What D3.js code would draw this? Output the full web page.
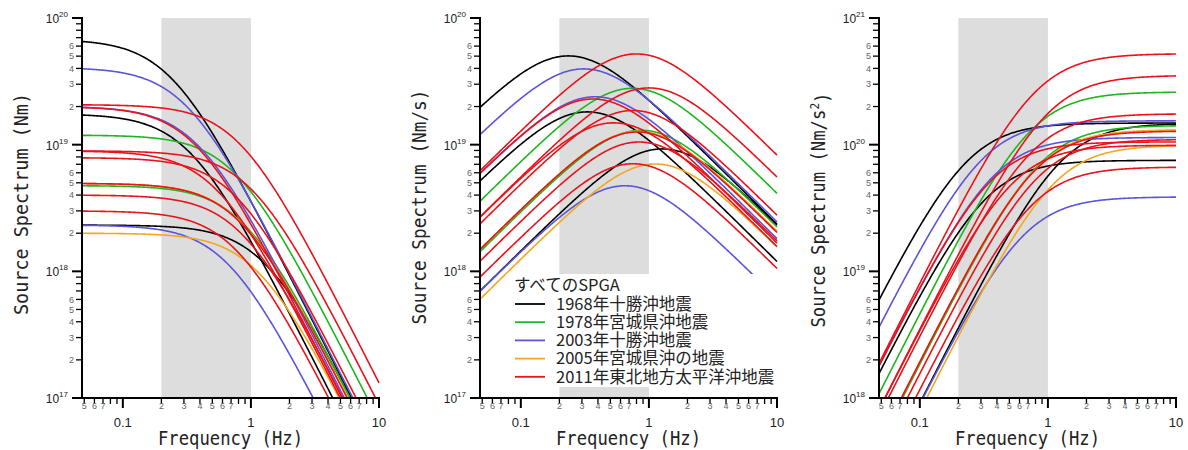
<!DOCTYPE html>
<html>
<head>
<meta charset="utf-8">
<script src="https://cdn.jsdelivr.net/npm/d3@7"></script>
<style>
  body { margin: 0; background: #fff; }
  text { font-family: "Liberation Sans", "DejaVu Sans", sans-serif; }
</style>
</head>
<body>
<svg id="chart" width="1188" height="450"></svg>
<script>
// events shown in the legend
var eventLabels = ["1968年十勝沖地震", "1978年宮城県沖地震", "2003年十勝沖地震", "2005年宮城県沖の地震", "2011年東北地方太平洋沖地震"];
var eventColors = ["#000000", "#1fb51f", "#5a55dc", "#f2a81e", "#e8131c"];

// one entry per SPGA: event index, seismic moment M0 (Nm), corner frequency fc (Hz)
var spgaEvent  = [0, 0, 0, 1, 1, 2, 2, 2, 3, 3, 4, 4, 4, 4, 4, 4, 4, 4];
var spgaMoment = [6.8e19, 1.75e19, 2.32e18, 1.19e19, 4.75e18, 4.07e19, 2.0e19, 2.32e18, 4.95e18, 2.0e18,
                  2.07e19, 2.0e19, 8.93e18, 8.93e18, 7.9e18, 4.95e18, 4.0e18, 3.0e18];
var spgaCorner = [0.235, 0.33, 1.27, 0.745, 0.87, 0.31, 0.38, 0.65, 0.82, 1.12,
                  0.80, 0.365, 1.0, 0.53, 0.75, 0.81, 0.835, 0.75];

var panelUnits = ["Nm", "Nm/s", "Nm/s"];
var panelUnitSup = ["", "", "2"];
var panelYDomains = [[1e17, 1e20], [1e17, 1e20], [1e18, 1e21]];
var freqDomain = [0.048, 10];
var bandRange = [0.2, 1];
var xMajorTicks = [0.1, 1, 10];
var xMajorLabels = ["0.1", "1", "10"];
var legendTitle = "すべてのSPGA";

var svg = d3.select("#chart");
var panelLeft = [82, 480, 879],
    plotW = 297,
    plotTop = 18,
    plotBottom = 398;

svg.append("rect").attr("width", 1188).attr("height", 450).attr("fill", "#fff");

// spectrum for panel p: displacement, velocity, acceleration (omega-squared source)
function spectrum(i, f, p) {
    var m = spgaMoment[i] / (1 + Math.pow(f / spgaCorner[i], 2));
    return m * Math.pow(2 * Math.PI * f, p);
}

var freqs = d3.range(0, 401).map(function (k) {
    return freqDomain[0] * Math.pow(freqDomain[1] / freqDomain[0], k / 400);
});

panelLeft.forEach(function (left, p) {
    var x = d3.scaleLog().domain(freqDomain).range([left, left + plotW]);
    var y = d3.scaleLog().domain(panelYDomains[p]).range([plotBottom, plotTop]);
    var g = svg.append("g");

    g.append("clipPath").attr("id", "clip" + p)
        .append("rect").attr("x", left).attr("y", plotTop)
        .attr("width", plotW + 1).attr("height", plotBottom - plotTop);

    // shaded frequency band
    g.append("rect")
        .attr("x", x(bandRange[0])).attr("y", plotTop)
        .attr("width", x(bandRange[1]) - x(bandRange[0]))
        .attr("height", plotBottom - plotTop)
        .attr("fill", "#dddddd");

    var line = d3.line()
        .x(function (d) { return x(d[0]); })
        .y(function (d) { return y(d[1]); });

    var curves = g.append("g").attr("clip-path", "url(#clip" + p + ")");
    d3.range(spgaMoment.length).forEach(function (i) {
        curves.append("path")
            .datum(freqs.map(function (f) { return [f, spectrum(i, f, p)]; }))
            .attr("d", line)
            .attr("fill", "none")
            .attr("stroke", eventColors[spgaEvent[i]])
            .attr("stroke-width", 1.6);
    });

    // legend in middle panel, on a white box
    if (p === 1) {
        var lg = g.append("g");
        lg.append("rect").attr("x", 506).attr("y", 274).attr("width", 286).attr("height", 113).attr("fill", "#fff");
        lg.append("text").attr("x", 514).attr("y", 285).attr("dy", "0.35em")
            .style("font-family", "'Noto Sans CJK JP'").style("font-size", "16.5px").attr("fill", "#222")
            .text(legendTitle);
        eventLabels.forEach(function (lab, k) {
            var ly = 304 + k * 18.2;
            lg.append("line").attr("x1", 515).attr("x2", 545).attr("y1", ly).attr("y2", ly)
                .attr("stroke", eventColors[k]).attr("stroke-width", 1.8);
            lg.append("text").attr("x", 556).attr("y", ly).attr("dy", "0.35em")
                .style("font-family", "'Noto Sans CJK JP'").style("font-size", "16.5px").attr("fill", "#222")
                .text(lab);
        });
    }

    // y axis
    var yAxis = g.append("g");
    var lo = Math.round(Math.log10(panelYDomains[p][0])),
        hi = Math.round(Math.log10(panelYDomains[p][1]));
    for (var d = lo; d <= hi; d++) {
        var v = Math.pow(10, d);
        yAxis.append("line").attr("x1", left - 10).attr("x2", left).attr("y1", y(v)).attr("y2", y(v))
            .attr("stroke", "#000").attr("stroke-width", 2);
        var t = yAxis.append("text").attr("x", left - 14).attr("y", y(v) + 5)
            .attr("text-anchor", "end").style("font-size", "12px").attr("fill", "#222");
        t.append("tspan").text("10");
        t.append("tspan").attr("dy", -6).style("font-size", "8px").text(d);
        if (d === hi) continue;
        for (var k = 2; k <= 9; k++) {
            var mv = k * v;
            yAxis.append("line").attr("x1", left - 6).attr("x2", left).attr("y1", y(mv)).attr("y2", y(mv))
                .attr("stroke", "#000").attr("stroke-width", 1.3);
            if (k <= 6) {
                yAxis.append("text").attr("x", left - 8).attr("y", y(mv)).attr("dy", "0.35em")
                    .attr("text-anchor", "end").style("font-size", "9px").attr("fill", "#666").text(k);
            }
        }
    }
    yAxis.append("line").attr("x1", left).attr("x2", left).attr("y1", plotTop - 1).attr("y2", plotBottom + 1)
        .attr("stroke", "#000").attr("stroke-width", 2);

    // x axis
    var xAxis = g.append("g");
    xAxis.append("line").attr("x1", left - 1).attr("x2", left + plotW + 1).attr("y1", plotBottom).attr("y2", plotBottom)
        .attr("stroke", "#000").attr("stroke-width", 2);
    [0.01, 0.1, 1].forEach(function (dec) {
        for (var k = 1; k <= 9; k++) {
            var f = k * dec;
            if (f < freqDomain[0] - 1e-9 || f > freqDomain[1] + 1e-9) continue;
            var major = k === 1;
            xAxis.append("line").attr("x1", x(f)).attr("x2", x(f))
                .attr("y1", plotBottom).attr("y2", plotBottom + (major ? 10 : 6))
                .attr("stroke", "#000").attr("stroke-width", major ? 2 : 1.3);
            if (!major && k <= 7) {
                xAxis.append("text").attr("x", x(f)).attr("y", plotBottom + 11)
                    .attr("text-anchor", "middle").style("font-size", "9px").attr("fill", "#666").text(k);
            }
        }
    });
    xAxis.append("line").attr("x1", x(10)).attr("x2", x(10)).attr("y1", plotBottom).attr("y2", plotBottom + 10)
        .attr("stroke", "#000").attr("stroke-width", 2);
    xMajorTicks.forEach(function (f, k) {
        xAxis.append("text").attr("x", x(f)).attr("y", plotBottom + 24).attr("dy", "0.35em")
            .attr("text-anchor", "middle").style("font-size", "13px").attr("fill", "#222").text(xMajorLabels[k]);
    });

    // axis titles
    svg.append("text")
        .attr("x", left + plotW / 2).attr("y", 438).attr("dy", "0.35em")
        .attr("text-anchor", "middle")
        .style("font-family", "'DejaVu Sans Mono'").style("font-size", "20px").attr("fill", "#222")
        .attr("textLength", 145).attr("lengthAdjust", "spacingAndGlyphs")
        .text("Frequency (Hz)");

    var titleX = left - 61, titleY = 204 + p * 3;
    var yt = svg.append("text")
        .attr("transform", "translate(" + titleX + "," + titleY + ") rotate(-90)")
        .attr("text-anchor", "middle").attr("dy", "0.35em")
        .style("font-family", "'DejaVu Sans Mono'").style("font-size", "20px").attr("fill", "#222")
        .attr("lengthAdjust", "spacingAndGlyphs")
        .attr("textLength", p === 0 ? 222 : 235);
    yt.append("tspan").text("Source Spectrum (" + panelUnits[p]);
    if (panelUnitSup[p]) {
        yt.append("tspan").attr("dy", "-0.5em").style("font-size", "13px").text(panelUnitSup[p]);
        yt.append("tspan").attr("dy", "0.5em").text(")");
    } else {
        yt.append("tspan").text(")");
    }
});
</script>
</body>
</html>
